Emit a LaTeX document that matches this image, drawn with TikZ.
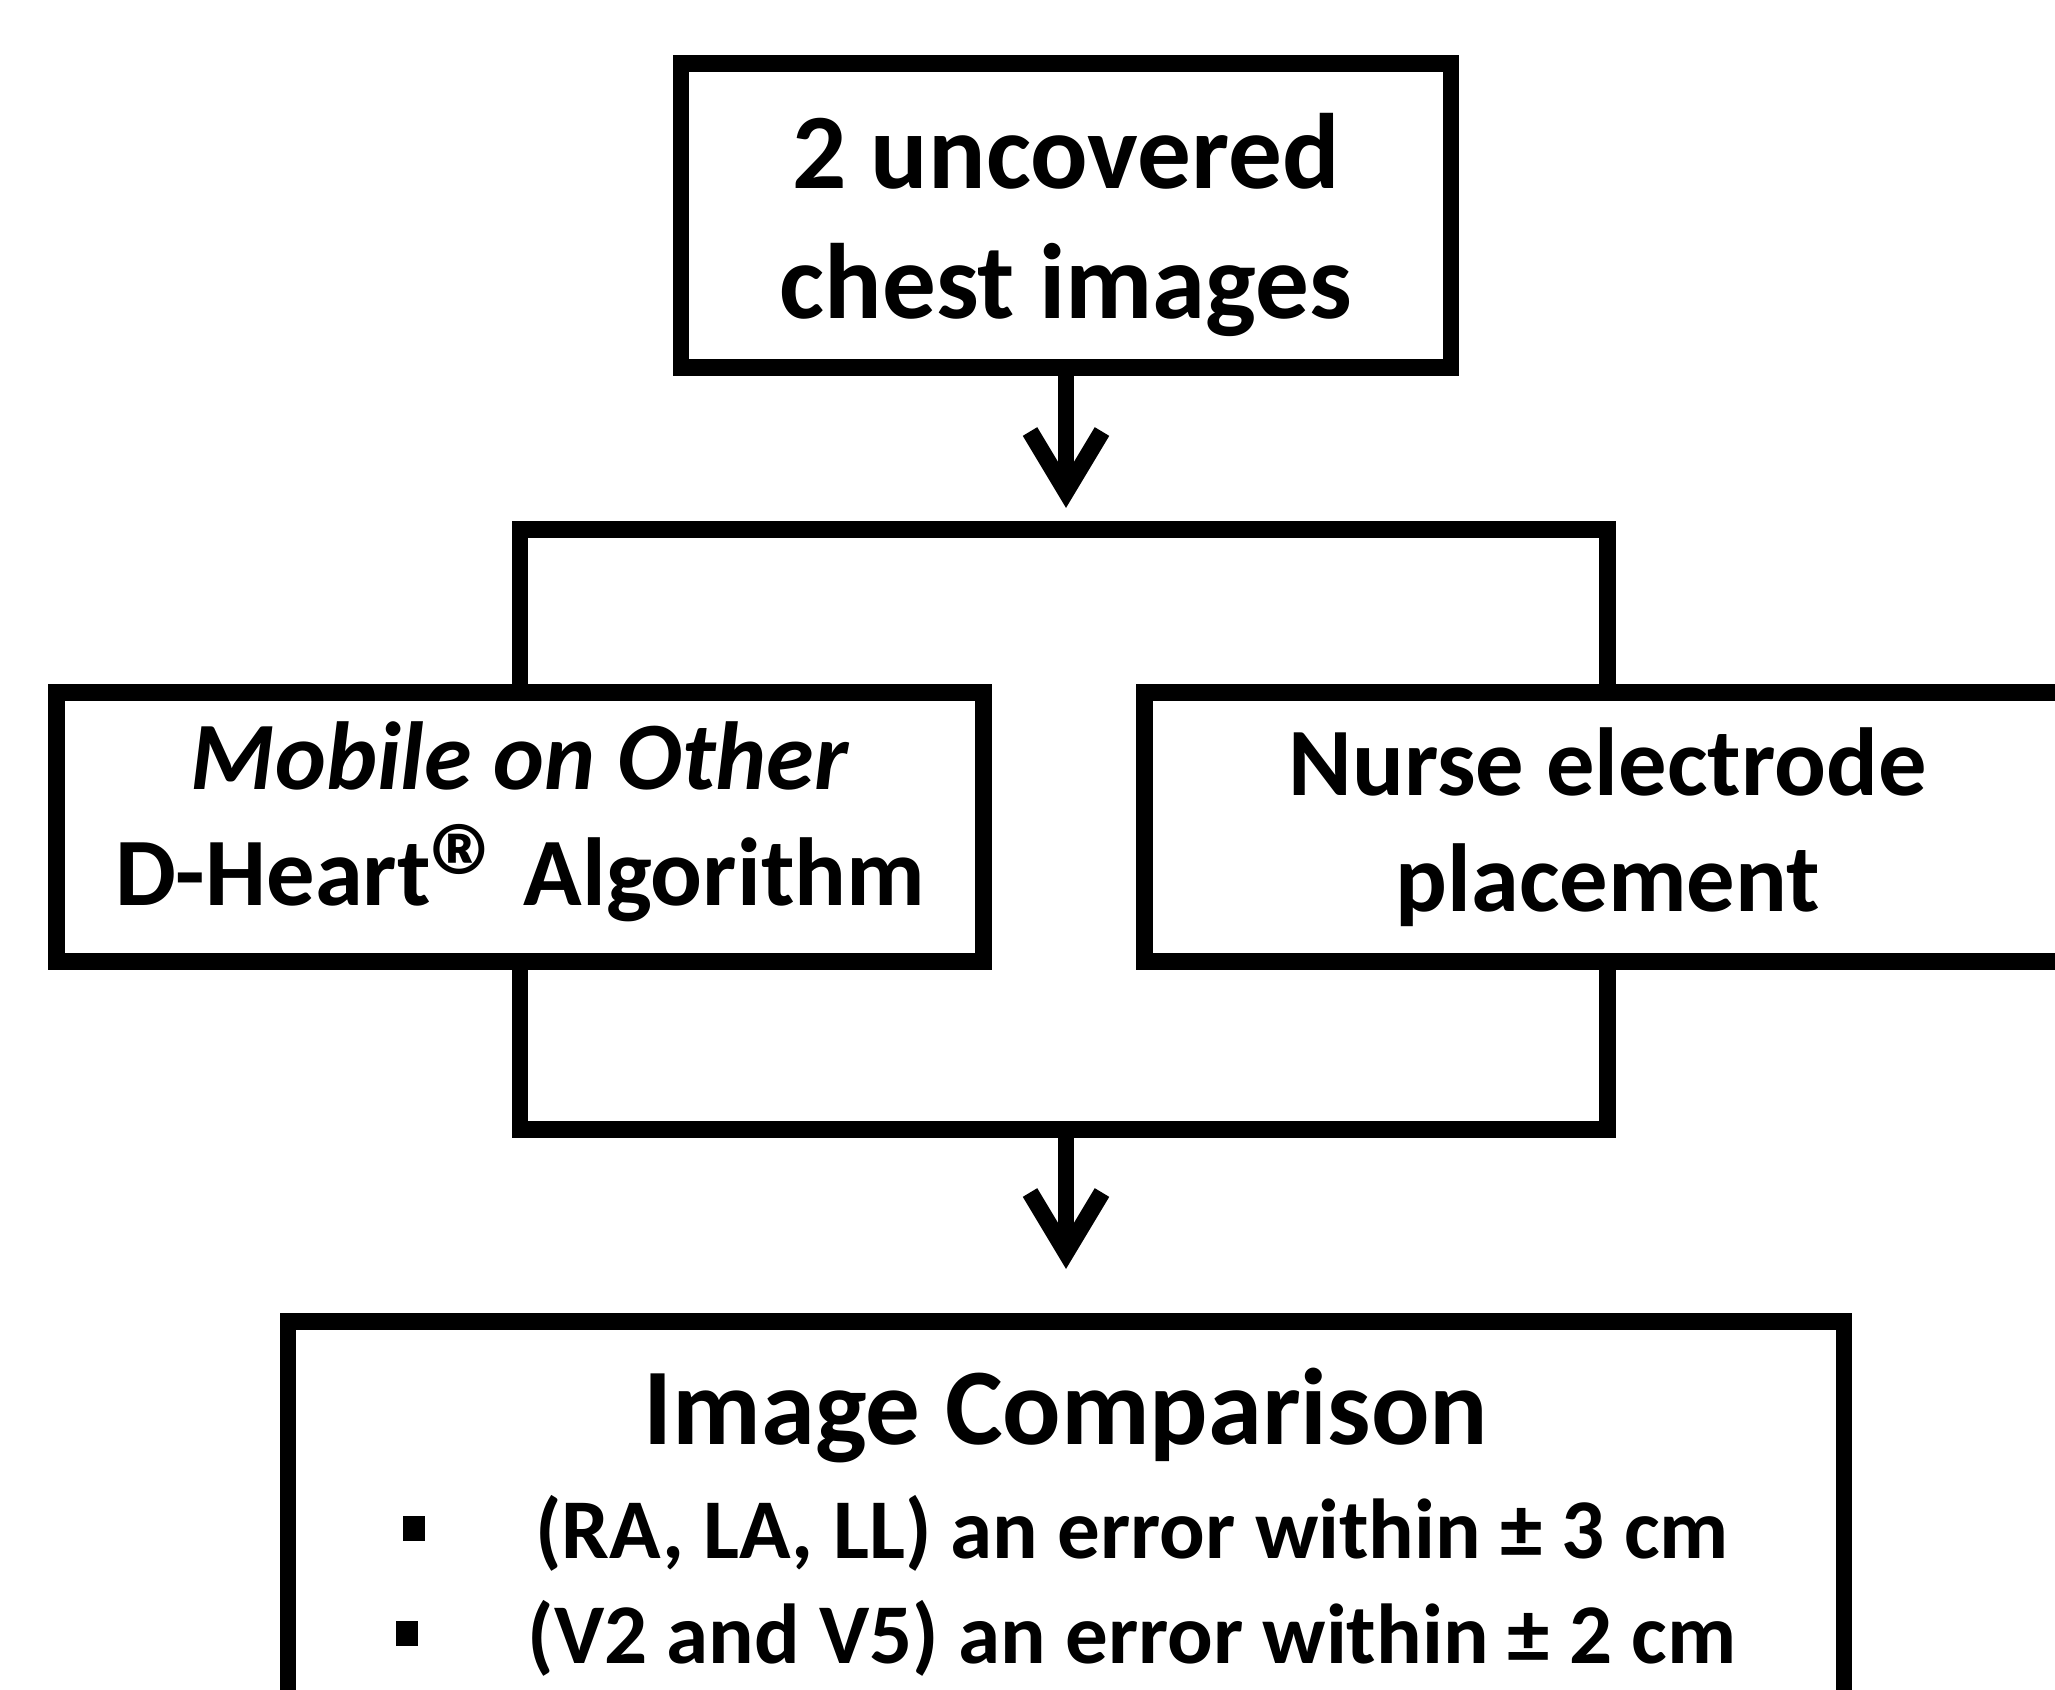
\documentclass[tikz,border=0pt]{standalone}
\usepackage{fontspec}
\setmainfont{Carlito}
\usetikzlibrary{arrows.meta, positioning}
\tikzset{
  stepbox/.style={
    rectangle, draw=black, line width=4.8pt, fill=white,
    minimum width=7.70cm, minimum height=3.04cm,
    align=center, font=\fontsize{30.5}{37}\selectfont\bfseries
  },
  midbox/.style={
    rectangle, draw=black, line width=4.8pt, fill=white,
    minimum width=9.27cm, minimum height=2.69cm,
    align=center, font=\fontsize{27.5}{33}\selectfont\bfseries
  },
  resultbox/.style={
    rectangle, draw=black, line width=4.8pt, fill=white,
    minimum width=15.56cm, inner ysep=0.47cm,
    align=center, font=\fontsize{24.2}{29.8}\selectfont\bfseries
  },
  link/.style={line width=4.8pt, draw=black},
  flow/.style={-{Straight Barb[length=0.6cm, width=0.72cm]}, line width=4.8pt, draw=black}
}
\newcommand{\sqbullet}{\rule[0.17cm]{0.22cm}{0.25cm}\hspace{1.1cm}}
\newcommand{\regmark}{{\fontsize{44}{44}\selectfont\raisebox{-0.17em}{®}}}

\begin{document}
\begin{tikzpicture}
  \clip (0,0) rectangle (20.55,-16.90);
  \node[stepbox, text depth=0pt] (chest) at (10.66,-2.155) {2 uncovered\\chest images};
  \coordinate[below=1.54cm of chest] (split);
  \node[midbox] (mobile) at (5.20,-8.27) {\textit{Mobile on Other}\\D-Heart\regmark\hspace{0.15em}Algorithm};
  \node[midbox, right=1.44cm of mobile] (nurse) {Nurse electrode\\placement};
  \coordinate[below=6.0cm of split] (join);
  \node[resultbox, below=1.83cm of join] (result)
    {{\fontsize{31}{37}\selectfont Image Comparison}\\[2.5pt]
     \sqbullet(RA, LA, LL) an error within ± 3 cm\\
     \sqbullet(V2 and V5) an error within ± 2 cm};

  \draw[flow, shorten >=0.22cm] (chest) -- (split);
  \draw[link] (mobile.north) |- (split) -| (nurse.north);
  \draw[link] (mobile.south) |- (join) -| (nurse.south);
  \draw[flow, shorten >=0.44cm] (join) -- (result);
\end{tikzpicture}
\end{document}
